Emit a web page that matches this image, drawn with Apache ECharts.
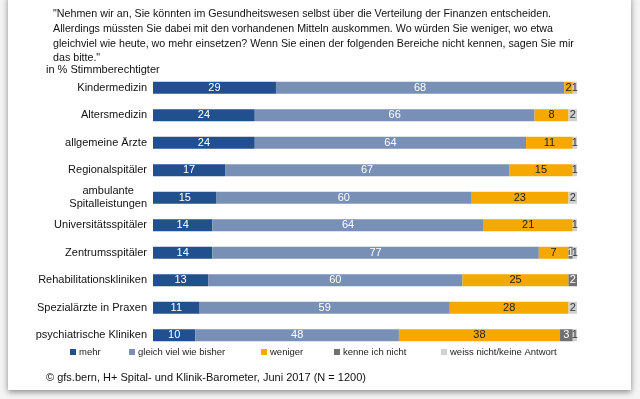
<!DOCTYPE html>
<html>
<head>
<meta charset="utf-8">
<script src="https://cdn.jsdelivr.net/npm/echarts@6/dist/echarts.min.js"></script>
<style>
    html, body { margin: 0; padding: 0; background: #f4f4f4; }
    #frame {
        position: absolute; left: 8px; top: -4px; width: 623px; height: 394px;
        background: #fff; box-shadow: 0 2px 6px rgba(0, 0, 0, 0.45);
    }
    #chart { position: absolute; left: 0; top: 0; width: 640px; height: 399px; }
</style>
</head>
<body>
<div id="frame"></div>
<div id="chart"></div>
<script>
// Kategorien von oben nach unten
let categories = ['Kindermedizin', 'Altersmedizin', 'allgemeine Ärzte', 'Regionalspitäler',
    'ambulante\nSpitalleistungen', 'Universitätsspitäler', 'Zentrumsspitäler',
    'Rehabilitationskliniken', 'Spezialärzte in Praxen', 'psychiatrische Kliniken'];
let mehr = [29, 24, 24, 17, 15, 14, 14, 13, 11, 10];
let gleich = [68, 66, 64, 67, 60, 64, 77, 60, 59, 48];
let weniger = [2, 8, 11, 15, 23, 21, 7, 25, 28, 38];
let kenne = [0, 0, 0, 0, 0, 0, 1, 2, 0, 3];
let weissNicht = [1, 2, 1, 1, 2, 1, 1, 0, 2, 1];

let seriesNames = ['mehr', 'gleich viel wie bisher', 'weniger', 'kenne ich nicht', 'weiss nicht/keine Antwort'];
let seriesData = [mehr, gleich, weniger, kenne, weissNicht];
let colors = ['#22508f', '#7890b5', '#f5a800', '#707070', '#d0d0d0'];
let labelColors = ['#fff', '#fff', '#222', '#fff', '#333'];
// x-Position der Legendeneinträge
let legendLeft = [70, 129, 261, 334, 441];

let chart = echarts.init(document.getElementById('chart'));
let font = 'Liberation Sans, Arial, sans-serif';
let plainText = { fontSize: 11, fontWeight: 'normal', color: '#111', fontFamily: font };

let option = {
    animation: false,
    textStyle: { fontFamily: font },
    title: [
        {
            text: '"Nehmen wir an, Sie könnten im Gesundheitswesen selbst über die Verteilung der Finanzen entscheiden.\n' +
                'Allerdings müssten Sie dabei mit den vorhandenen Mitteln auskommen. Wo würden Sie weniger, wo etwa\n' +
                'gleichviel wie heute, wo mehr einsetzen? Wenn Sie einen der folgenden Bereiche nicht kennen, sagen Sie mir\n' +
                'das bitte."',
            left: 53, top: 7, padding: 0,
            textStyle: Object.assign({}, plainText, { fontSize: 10.7, lineHeight: 14.7 })
        },
        { text: 'in % Stimmberechtigter', left: 46, top: 64, padding: 0, textStyle: plainText },
        {
            text: '© gfs.bern, H+ Spital- und Klinik-Barometer, Juni 2017 (N = 1200)',
            left: 46, top: 372, padding: 0, textStyle: plainText
        }
    ],
    legend: seriesNames.map(function (name, i) {
        return {
            left: legendLeft[i], top: 347, padding: 0,
            itemWidth: 6, itemHeight: 6, icon: 'rect',
            textStyle: { fontSize: 9.5, color: '#222', padding: [0, 0, 0, -2] },
            data: [name]
        };
    }),
    grid: { left: 153, width: 424, top: 74, height: 275 },
    xAxis: { type: 'value', min: 0, max: 100, show: false },
    yAxis: {
        type: 'category', inverse: true, data: categories,
        axisLine: { show: false }, axisTick: { show: false },
        axisLabel: {
            fontSize: 11, color: '#111', margin: 6, lineHeight: 13,
            formatter: function (v) {
                return v.split('\n').map(function (s) { return '{c|' + s + '}'; }).join('\n');
            },
            rich: { c: { fontSize: 11, color: '#111', lineHeight: 13, align: 'center' } }
        }
    },
    series: seriesNames.map(function (name, i) {
        return {
            name: name, type: 'bar', stack: 'total', barWidth: 12,
            data: seriesData[i],
            itemStyle: { color: colors[i] },
            label: {
                show: true, position: 'inside', fontSize: 11, color: labelColors[i],
                formatter: function (p) { return p.value > 0 ? p.value : ''; }
            }
        };
    })
};
chart.setOption(option);
</script>
</body>
</html>
